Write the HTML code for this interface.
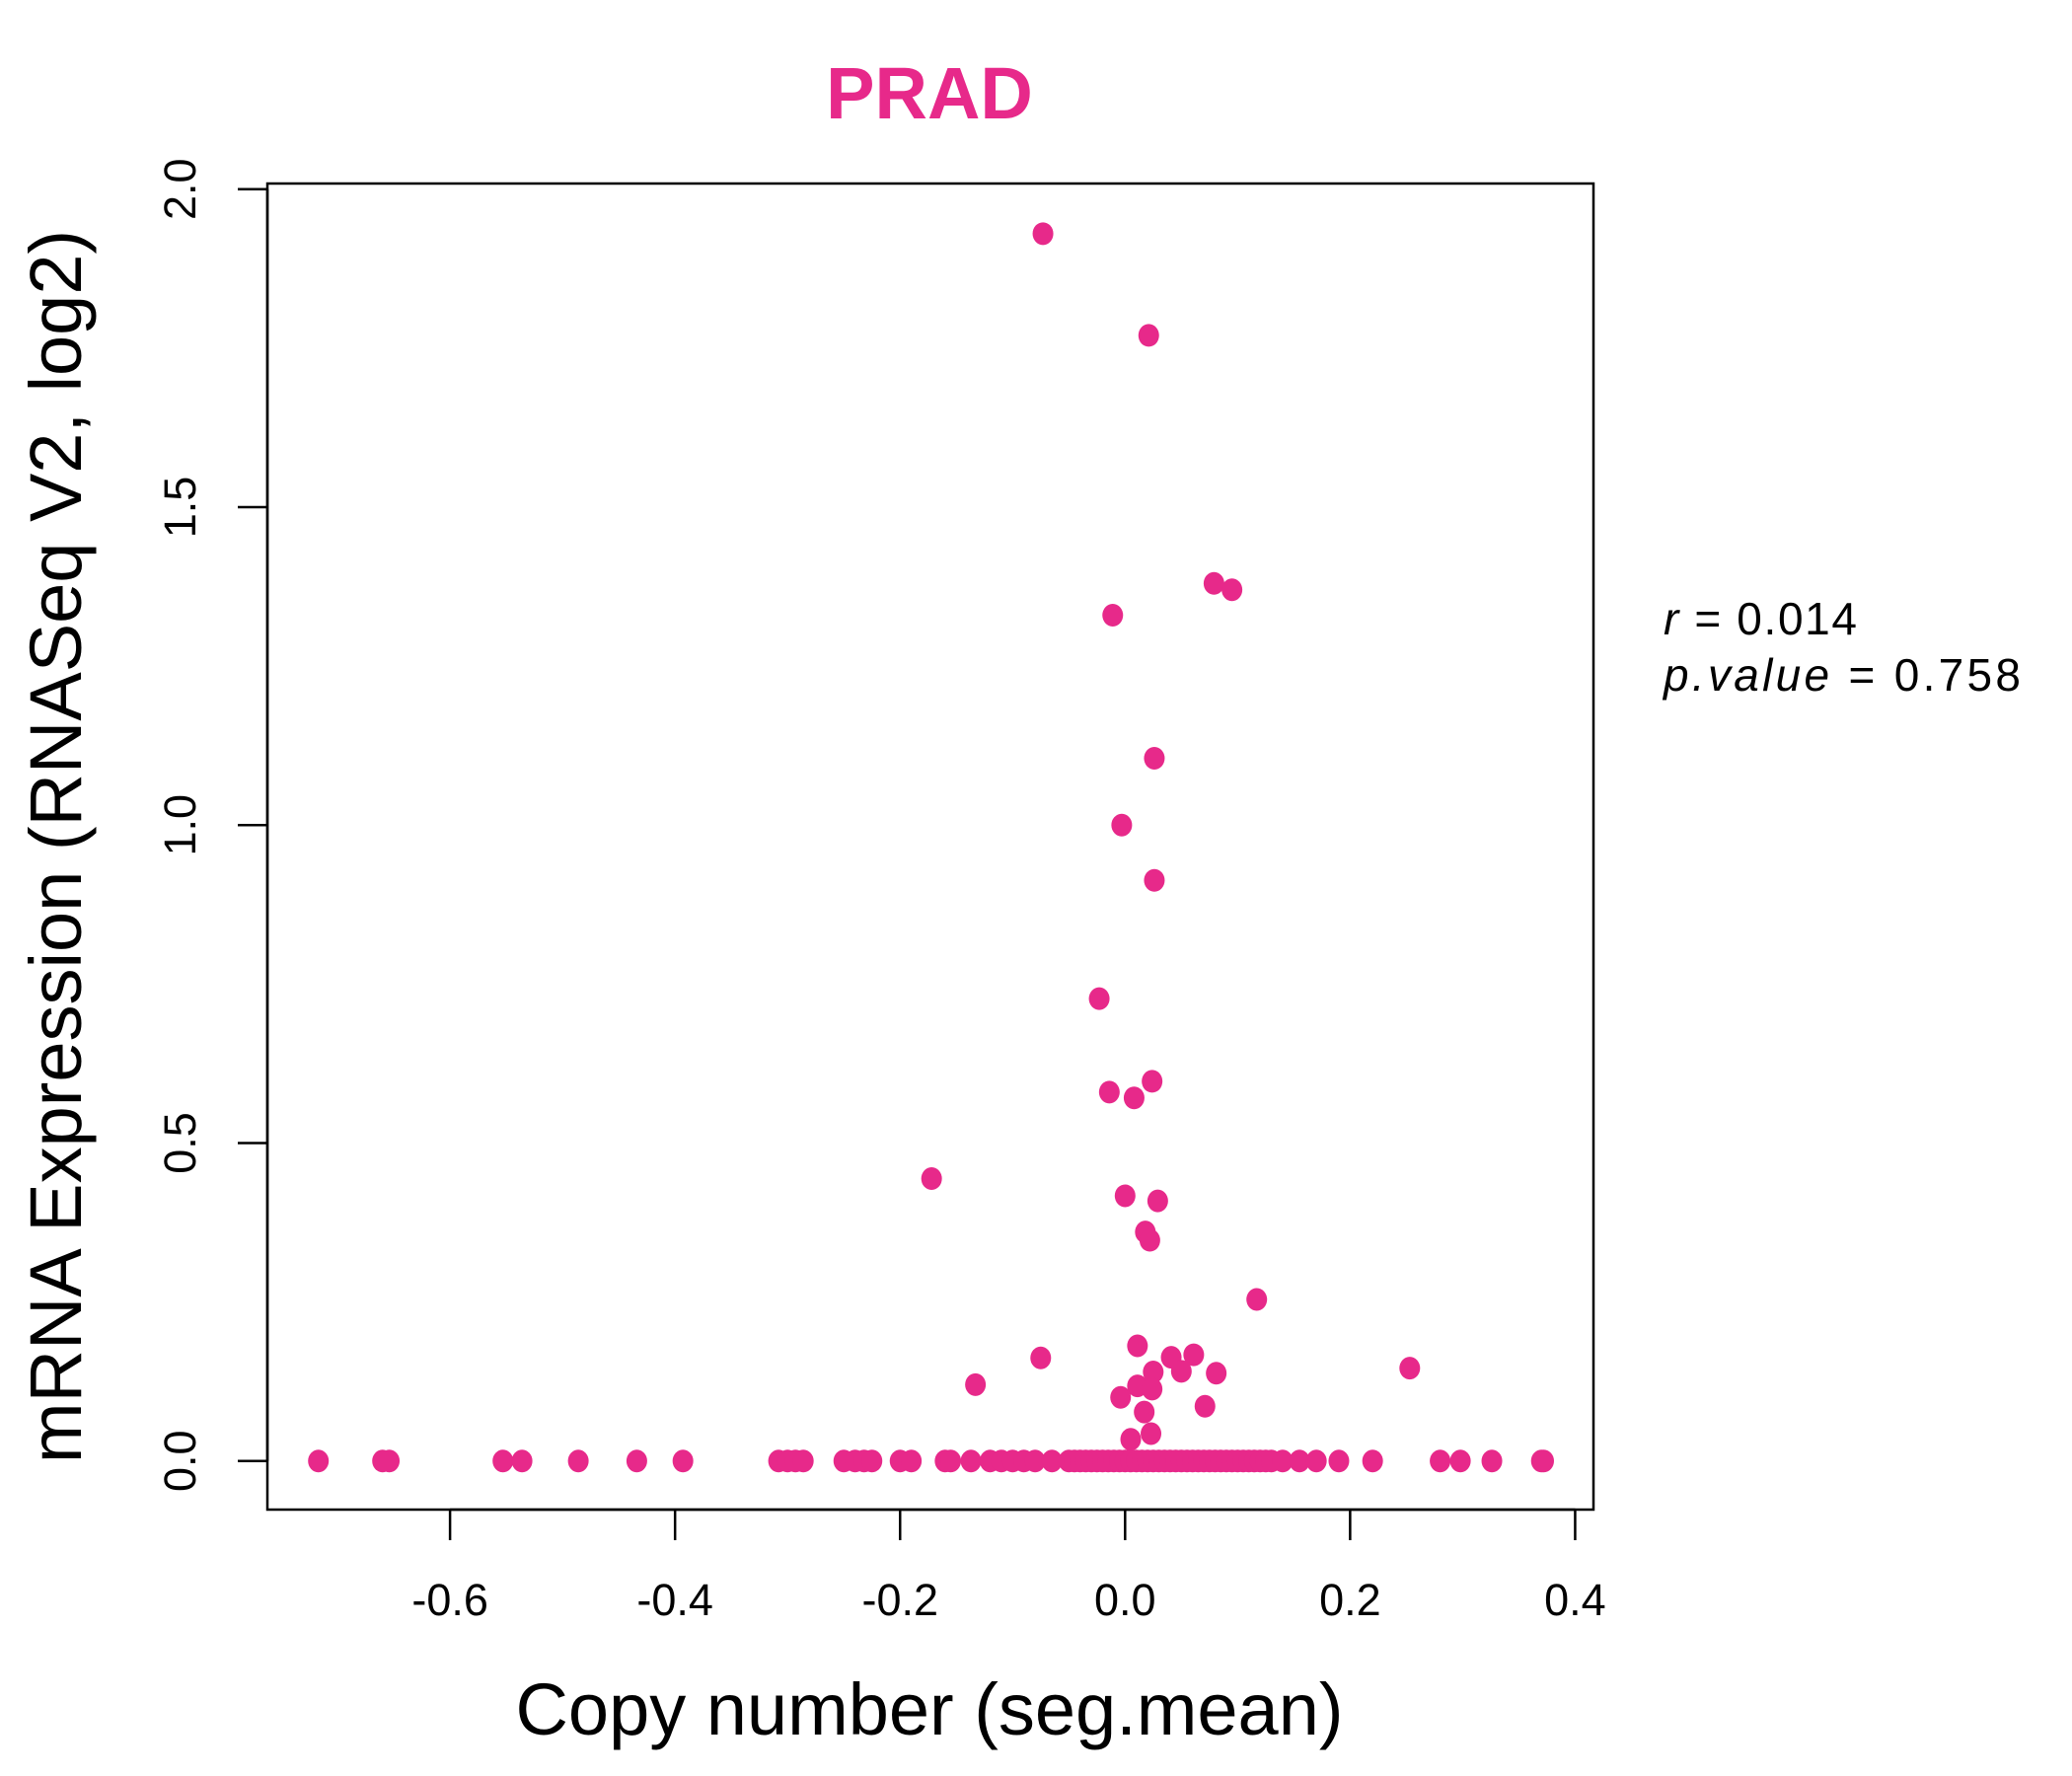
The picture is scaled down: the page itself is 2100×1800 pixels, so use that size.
<!DOCTYPE html>
<html><head><meta charset="utf-8"><style>html,body{margin:0;padding:0;background:#fff}svg{display:block}</style></head>
<body>
<svg id="chart" width="2100" height="1800" viewBox="0 0 2100 1800" xmlns="http://www.w3.org/2000/svg" font-family="'Liberation Sans', sans-serif">
<rect width="2100" height="1800" fill="#fff"/>
<text x="942" y="120" font-size="74" font-weight="bold" fill="#E7298A" text-anchor="middle">PRAD</text>
<rect x="271" y="186" width="1344" height="1344" fill="none" stroke="#000" stroke-width="2.5"/>
<g id="xaxis"></g>
<g id="yaxis"></g>
<g id="points"></g>
<text x="942" y="1758" font-size="74" text-anchor="middle">Copy number (seg.mean)</text>
<text transform="translate(82,858) rotate(-90)" font-size="74" text-anchor="middle">mRNA Expression (RNASeq V2, log2)</text>
<text x="1686" y="643" font-size="46" textLength="196" lengthAdjust="spacing"><tspan font-style="italic">r</tspan> = 0.014</text>
<text x="1686" y="700" font-size="46" textLength="362" lengthAdjust="spacing"><tspan font-style="italic">p.value</tspan> = 0.758</text>
</svg>
<script>
const xTicks = [-0.6, -0.4, -0.2, 0.0, 0.2, 0.4];
const xTickLabels = ["-0.6", "-0.4", "-0.2", "0.0", "0.2", "0.4"];
const yTicks = [0, 0.5, 1.0, 1.5, 2.0];
const yTickLabels = ["0.0", "0.5", "1.0", "1.5", "2.0"];
const xNonZero = [-0.073,0.021,0.079,0.095,-0.011,0.026,-0.003,0.026,-0.023,-0.014,0.008,0.024,-0.172,0.000,0.029,0.018,0.022,0.117,0.253,-0.075,0.011,0.041,0.061,0.025,0.050,0.081,-0.133,0.011,0.024,-0.004,0.071,0.017,0.023,0.005];
const yNonZero = [1.93,1.77,1.38,1.37,1.33,1.105,1.0,0.913,0.727,0.58,0.571,0.597,0.444,0.417,0.409,0.36,0.347,0.254,0.146,0.162,0.181,0.163,0.167,0.14,0.141,0.138,0.12,0.118,0.113,0.1,0.086,0.077,0.043,0.034];
const xZero = [-0.717,-0.66,-0.654,-0.553,-0.536,-0.486,-0.434,-0.393,-0.308,-0.300,-0.293,-0.286,-0.25,-0.24,-0.232,-0.225,-0.20,-0.19,-0.16,-0.155,-0.137,-0.12,-0.11,-0.10,-0.09,-0.08,-0.065,
-0.05,-0.045,-0.04,-0.035,-0.03,-0.025,-0.02,-0.015,-0.01,-0.005,0.0,0.005,0.01,0.015,0.02,0.025,0.03,0.035,0.04,0.045,0.05,0.055,0.06,0.065,0.07,0.075,0.08,0.085,0.09,0.095,0.1,0.105,0.11,0.115,0.12,0.125,0.13,
0.14,0.155,0.17,0.19,0.22,0.28,0.298,0.326,0.37,0.372];
const yZero = xZero.map(() => 0);

const NS = "http://www.w3.org/2000/svg";
function xs(v){ return 1140.3 + v * 1140.3; }
function ys(v){ return 1480.7 - v * 644.5; }
const xa = document.getElementById('xaxis');
const ya = document.getElementById('yaxis');
const pts = document.getElementById('points');
function mk(tag, attrs){ const e = document.createElementNS(NS, tag); for (const k in attrs) e.setAttribute(k, attrs[k]); return e; }

xa.appendChild(mk('line', {x1: xs(xTicks[0]), x2: xs(xTicks[xTicks.length-1]), y1: 1530, y2: 1530, stroke: '#000', 'stroke-width': 2.5}));
xTicks.forEach((t, i) => {
  const l = mk('line', {x1: xs(t), x2: xs(t), y1: 1530, y2: 1561, stroke: '#000', 'stroke-width': 2.5});
  
  
  xa.appendChild(l);
  const tx = mk('text', {x: xs(t), y: 1637, 'font-size': 45, 'text-anchor': 'middle'});
  tx.textContent = xTickLabels[i];
  
  
  xa.appendChild(tx);
});
ya.appendChild(mk('line', {x1: 271, x2: 271, y1: ys(yTicks[0]), y2: ys(yTicks[yTicks.length-1]), stroke: '#000', 'stroke-width': 2.5}));
yTicks.forEach((t, i) => {
  const l = mk('line', {x1: 241, x2: 271, y1: ys(t), y2: ys(t), stroke: '#000', 'stroke-width': 2.5});
  
  
  ya.appendChild(l);
  const tx = mk('text', {transform: `translate(198,${ys(t)}) rotate(-90)`, 'font-size': 45, 'text-anchor': 'middle'});
  tx.textContent = yTickLabels[i];
  
  
  ya.appendChild(tx);
});
function plot(xArr, yArr){
  xArr.forEach((x, i) => {
    const c = mk('ellipse', {cx: xs(x), cy: ys(yArr[i]), rx: 10.5, ry: 11.5, fill: '#E7298A'});
    
    
    pts.appendChild(c);
  });
}
plot(xZero, yZero);
plot(xNonZero, yNonZero);
</script>
</body></html>
